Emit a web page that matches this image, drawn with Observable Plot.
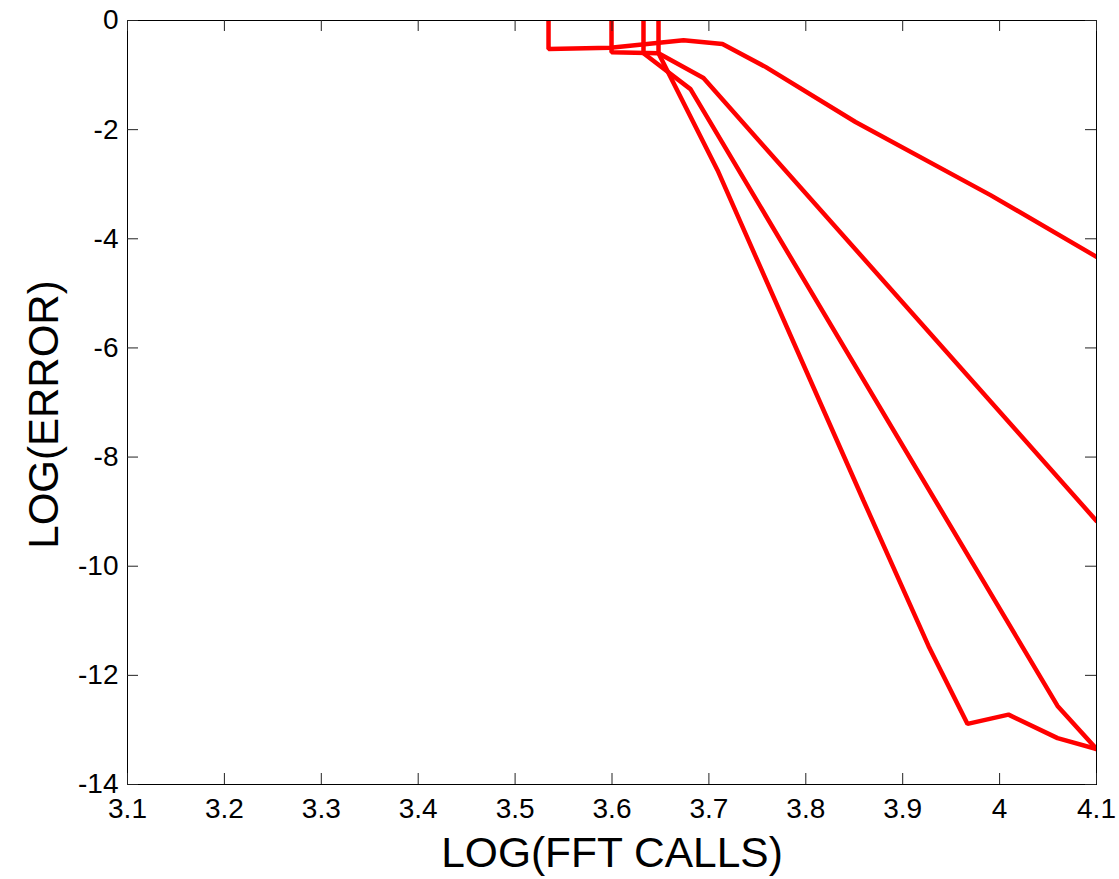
<!DOCTYPE html>
<html><head><meta charset="utf-8">
<script src="https://cdn.jsdelivr.net/npm/d3@7"></script>
<script src="https://cdn.jsdelivr.net/npm/@observablehq/plot@0.6"></script>
<style>html,body{margin:0;padding:0;background:#fff;overflow:hidden}svg{display:block}</style>
</head><body><div id="chart"></div>
<script>
const xTicks = [3.1, 3.2, 3.3, 3.4, 3.5, 3.6, 3.7, 3.8, 3.9, 4, 4.1];
const yTicks = [-14, -12, -10, -8, -6, -4, -2, 0];
const xLabel = "LOG(FFT CALLS)";
const yLabel = "LOG(ERROR)";

const run1X = [3.5345, 3.5345, 3.5985, 3.6738, 3.714, 3.7584, 3.8513, 3.9906, 4.1];
const run1Y = [1, -0.52, -0.50, -0.36, -0.43, -0.85, -1.86, -3.20, -4.33];
const run2X = [3.5995, 3.5995, 3.648, 3.6944, 4.1];
const run2Y = [1, -0.58, -0.60, -1.055, -9.17];
const run3X = [3.6325, 3.6325, 3.681, 4.0598, 4.1];
const run3Y = [1, -0.60, -1.257, -12.56, -13.35];
const run4X = [3.648, 3.648, 3.7089, 3.8596, 3.9266, 3.9669, 4.0092, 4.0598, 4.1];
const run4Y = [1, -0.60, -2.743, -8.80, -11.46, -12.89, -12.72, -13.15, -13.35];

const runs = [[run1X, run1Y], [run2X, run2Y], [run3X, run3Y], [run4X, run4Y]];
const table = runs.flatMap(([xs, ys], i) => xs.map((x, j) => ({run: i + 1, x, y: ys[j]})));

const W = 1119, H = 879;
const mL = 127, mR = 23, mT = 20, mB = 95;
const pw = W - mL - mR, ph = H - mT - mB;
const tl = 11;
const font = "'Liberation Sans', Arial, Helvetica, sans-serif";

const chart = Plot.plot({
  width: W, height: H,
  marginLeft: mL, marginRight: mR, marginTop: mT, marginBottom: mB,
  style: {fontFamily: font, fontSize: "28px", color: "black", background: "white"},
  x: {domain: [3.1, 4.1], ticks: xTicks},
  y: {domain: [-14, 0], ticks: yTicks},
  marks: [
    Plot.line(table, {x: "x", y: "y", z: "run", stroke: "#ff0000", strokeWidth: 4.5, clip: true, strokeLinejoin: "miter"}),
    Plot.frame({stroke: "black", strokeWidth: 1}),
    Plot.tickX(xTicks, {x: d => d, insetTop: ph - tl, stroke: "#222", strokeWidth: 1}),
    Plot.tickX(xTicks, {x: d => d, insetBottom: ph - tl, stroke: "#222", strokeWidth: 1}),
    Plot.tickY(yTicks, {y: d => d, insetRight: pw - tl, stroke: "#222", strokeWidth: 1}),
    Plot.tickY(yTicks, {y: d => d, insetLeft: pw - tl, stroke: "#222", strokeWidth: 1}),
    Plot.axisX(xTicks, {tickSize: 0, tickPadding: 14, label: null, tickFormat: d => String(d), fill: "black", fontSize: 28}),
    Plot.axisY(yTicks, {tickSize: 0, tickPadding: 9, label: null, tickFormat: d => String(d), fill: "black", fontSize: 28}),
    Plot.text([xLabel], {text: d => d, frameAnchor: "bottom", textAnchor: "middle", lineAnchor: "bottom", dy: 82, fontSize: 42.5, fill: "black"}),
    Plot.text([yLabel], {text: d => d, frameAnchor: "left", textAnchor: "middle", lineAnchor: "bottom", rotate: -90, dx: -70, dy: 12, fontSize: 42, fill: "black"})
  ]
});
document.getElementById("chart").appendChild(chart);
</script>
</body></html>
